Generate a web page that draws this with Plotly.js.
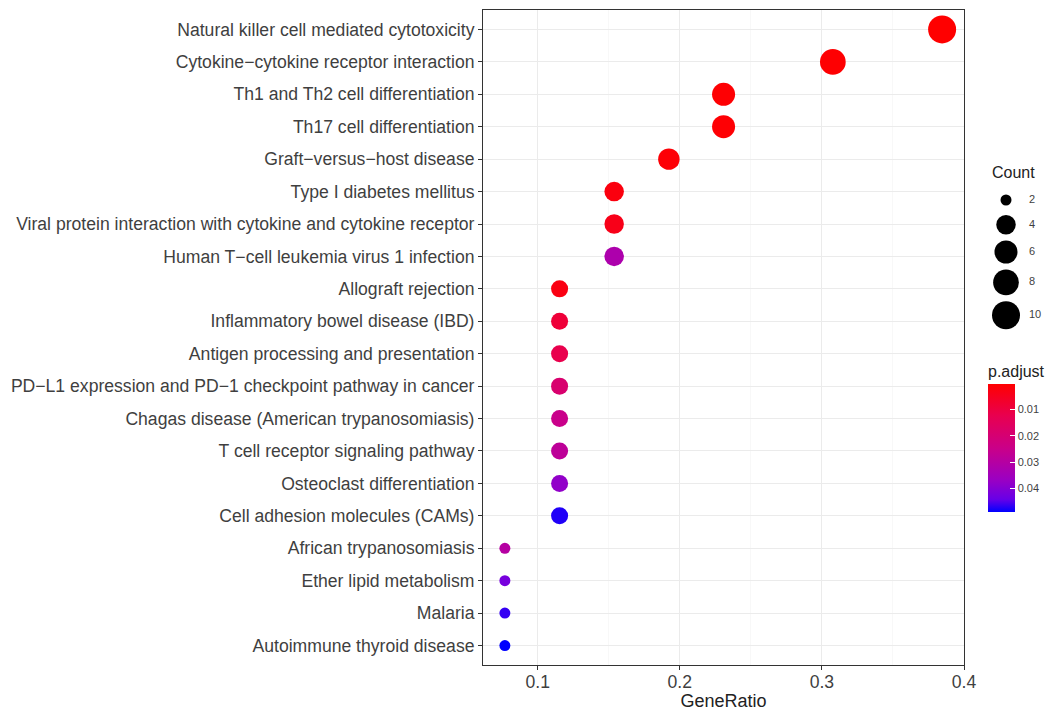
<!DOCTYPE html>
<html>
<head>
<meta charset="utf-8">
<script src="https://cdn.plot.ly/plotly-3.0.1.min.js"></script>
<style>html,body{margin:0;padding:0;background:#fff;}#chart{width:1051px;height:711px;}</style>
</head>
<body>
<div id="chart"></div>
<script>
// ---- data ----
var pathways = [
  "Natural killer cell mediated cytotoxicity",
  "Cytokine\u2212cytokine receptor interaction",
  "Th1 and Th2 cell differentiation",
  "Th17 cell differentiation",
  "Graft\u2212versus\u2212host disease",
  "Type I diabetes mellitus",
  "Viral protein interaction with cytokine and cytokine receptor",
  "Human T\u2212cell leukemia virus 1 infection",
  "Allograft rejection",
  "Inflammatory bowel disease (IBD)",
  "Antigen processing and presentation",
  "PD\u2212L1 expression and PD\u22121 checkpoint pathway in cancer",
  "Chagas disease (American trypanosomiasis)",
  "T cell receptor signaling pathway",
  "Osteoclast differentiation",
  "Cell adhesion molecules (CAMs)",
  "African trypanosomiasis",
  "Ether lipid metabolism",
  "Malaria",
  "Autoimmune thyroid disease"
];
var counts = [10, 8, 6, 6, 5, 4, 4, 4, 3, 3, 3, 3, 3, 3, 3, 3, 2, 2, 2, 2];
var geneRatio = [0.3846, 0.3077, 0.2308, 0.2308, 0.1923, 0.1538, 0.1538, 0.1538,
                 0.1154, 0.1154, 0.1154, 0.1154, 0.1154, 0.1154, 0.1154, 0.1154,
                 0.0769, 0.0769, 0.0769, 0.0769];
var pAdjust = [0.0003, 0.0006, 0.0008, 0.0009, 0.0012, 0.0025, 0.004, 0.032,
               0.003, 0.009, 0.012, 0.019, 0.025, 0.028, 0.038, 0.0475,
               0.030, 0.042, 0.0465, 0.049];
var legendCounts = [2, 4, 6, 8, 10];
var xTicks = [0.1, 0.2, 0.3, 0.4];
var pTicks = [0.01, 0.02, 0.03, 0.04];

// ---- styling helpers ----
var W = 1051, H = 711;
var minC = 2, maxC = 10;
function diam(c) { return 11 + 17 * Math.sqrt((c - minC) / (maxC - minC)); }
// colour bar shows low p.adjust (red) on top, so colour by -p.adjust with a reversed scale
var colorscale = [[0, '#0000FF'], [0.1, '#6800E7'], [0.25, '#9A00C3'], [0.5, '#CA0088'], [0.75, '#E80050'], [1, '#FF0000']];
var font = 'Liberation Sans, Arial, Helvetica, sans-serif';
var txt = '#3F3F3F';
var pmin = Math.min.apply(null, pAdjust), pmax = Math.max.apply(null, pAdjust);

// plot panel in pixels
var px0 = 483, px1 = 964, py0 = 10, py1 = 665;

var main = {
  type: 'scatter', mode: 'markers',
  x: geneRatio, y: pathways,
  marker: {
    size: counts.map(diam),
    color: pAdjust.map(function (v) { return -v; }), colorscale: colorscale, cmin: -pmax, cmax: -pmin,
    line: {width: 0}, opacity: 1,
    colorbar: {
      x: 988 / W, xanchor: 'left', xref: 'paper',
      y: (H - 362) / H, yanchor: 'top', yref: 'paper',
      len: 150, lenmode: 'pixels', thickness: 27, thicknessmode: 'pixels',
      xpad: 0, ypad: 0, outlinewidth: 0,
      tickvals: pTicks.map(function (v) { return -v; }), ticktext: pTicks.map(function (v) { return v.toFixed(2); }),
      ticks: 'inside', ticklen: 5, tickcolor: '#ffffff', tickwidth: 1,
      tickfont: {family: font, size: 11, color: txt},
      title: {text: 'p.adjust', side: 'top', font: {family: font, size: 16, color: '#222'}}
    }
  },
  showlegend: false, hoverinfo: 'x+y'
};

// size legend (Count) on a pixel-frame overlay axis
var legY = [], yy = 200, prevH = null;
legendCounts.forEach(function (c) {
  var h = Math.max(24, diam(c) + 6);
  if (prevH !== null) yy += (prevH + h) / 2;
  legY.push(yy); prevH = h;
});
var sizeLegend = {
  type: 'scatter', mode: 'markers', xaxis: 'x2', yaxis: 'y2',
  x: legendCounts.map(function () { return 1006; }), y: legY,
  marker: {size: legendCounts.map(diam), color: '#000000', opacity: 1, line: {width: 0}},
  showlegend: false, hoverinfo: 'skip'
};
var sizeLabels = {
  type: 'scatter', mode: 'text', xaxis: 'x2', yaxis: 'y2',
  x: legendCounts.map(function () { return 1029; }), y: legY,
  text: legendCounts.map(String), textposition: 'middle right',
  textfont: {family: font, size: 11, color: txt},
  showlegend: false, hoverinfo: 'skip'
};

var layout = {
  width: W, height: H,
  margin: {l: 0, r: 0, t: 0, b: 0, pad: 0},
  paper_bgcolor: '#fff', plot_bgcolor: 'rgba(0,0,0,0)',
  font: {family: font, color: txt},
  xaxis: {
    domain: [px0 / W, px1 / W], range: [0.0615, 0.4], automargin: false,
    tickvals: xTicks, ticktext: xTicks.map(String),
    ticks: 'outside', ticklen: 4, tickcolor: '#333', tickwidth: 1,
    ticklabelstandoff: -3,
    tickfont: {family: font, size: 17.6, color: txt},
    showgrid: true, gridcolor: '#EBEBEB', gridwidth: 1,
    minor: {tick0: 0.05, dtick: 0.1, showgrid: true, gridcolor: '#F4F4F4', gridwidth: 0.6, ticks: ''},
    showline: true, mirror: true, linecolor: '#333', linewidth: 1, zeroline: false,
    title: {text: 'GeneRatio', font: {family: font, size: 18, color: '#222'}, standoff: 6}
  },
  yaxis: {
    domain: [(H - py1) / H, (H - py0) / H], automargin: false,
    type: 'category', categoryorder: 'array', categoryarray: pathways,
    range: [pathways.length - 0.4, -0.6],
    ticks: 'outside', ticklen: 4, tickcolor: '#333', tickwidth: 1,
    tickfont: {family: font, size: 17.6, color: txt},
    showgrid: true, gridcolor: '#EBEBEB', gridwidth: 1,
    showline: true, mirror: true, linecolor: '#333', linewidth: 1, zeroline: false
  },
  xaxis2: {domain: [0, 1], range: [0, W], visible: false, fixedrange: true, anchor: 'y2'},
  yaxis2: {domain: [0, 1], range: [H, 0], visible: false, fixedrange: true, anchor: 'x2'},
  annotations: [
    {text: 'Count', xref: 'paper', yref: 'paper', x: 990 / W, y: (H - 173) / H,
     xanchor: 'left', yanchor: 'middle', showarrow: false,
     font: {family: font, size: 16, color: '#222'}}
  ]
};

Plotly.newPlot('chart', [main, sizeLegend, sizeLabels], layout, {displayModeBar: false, staticPlot: true});
</script>
</body>
</html>
